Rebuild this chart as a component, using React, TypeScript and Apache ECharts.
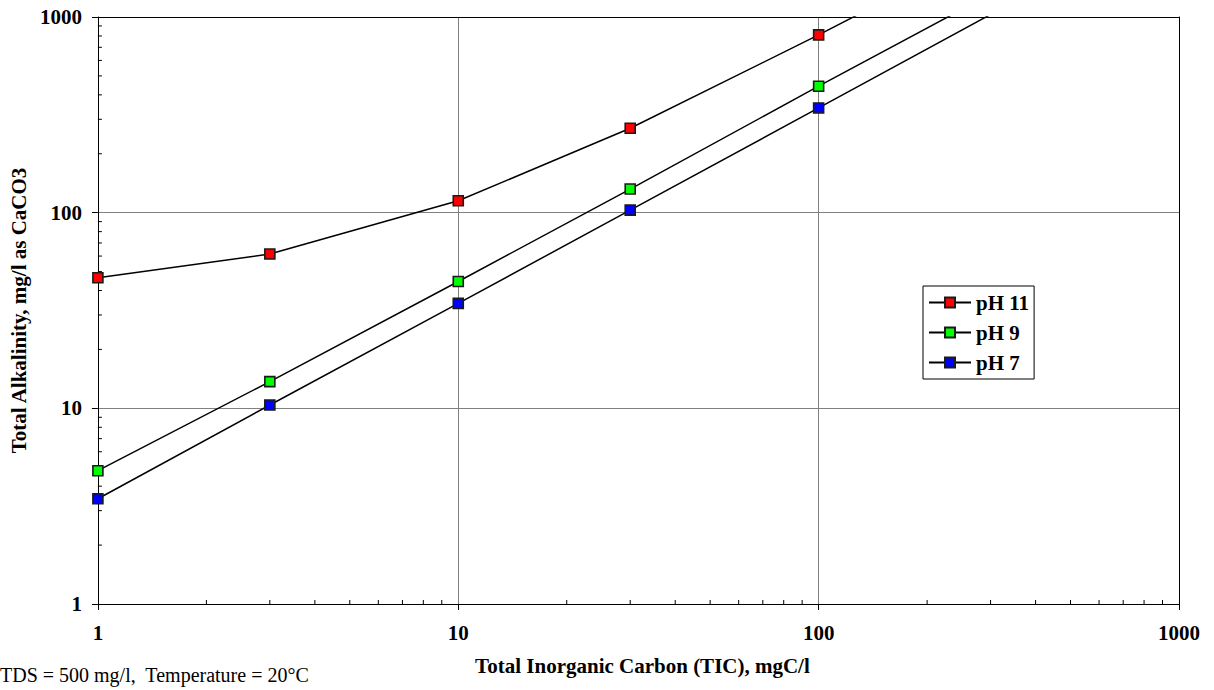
import React, { useEffect, useRef } from "react";
import * as echarts from "echarts";

const xValues = [1, 3, 10, 30, 100, 300];
const ph11 = [46.5, 61.5, 115, 270, 810, 2300];
const ph9 = [4.8, 13.7, 44.5, 132, 443, 1310];
const ph7 = [3.45, 10.4, 34.4, 103, 343, 1030];
const seriesNames = ["pH 11", "pH 9", "pH 7"];
const seriesColors = ["#ff0000", "#00ff00", "#0000ff"];
const minorTicks = [2, 3, 4, 5, 6, 7, 8, 9, 20, 30, 40, 50, 60, 70, 80, 90, 200, 300, 400, 500, 600, 700, 800, 900];

const FONT = "'Liberation Serif', 'Times New Roman', serif";
const FS = 21;

export default function App() {
  const ref = useRef<HTMLDivElement>(null);
  useEffect(() => {
    document.body.style.margin = "0";
    const chart = echarts.init(ref.current!, null, { renderer: "svg" });
    const mk = (name: string, vals: number[], color: string) => ({
      name,
      type: "line",
      data: xValues.map((x, i) => [x, vals[i]]),
      symbol: "rect",
      symbolSize: 10,
      clip: true,
      lineStyle: { color: "#000", width: 1.5 },
      itemStyle: { color, borderColor: "#1a1a1a", borderWidth: 1.6 },
      z: 5,
    });
    const axisCommon = {
      type: "log",
      logBase: 10,
      min: 1,
      max: 1000,
    };
    const fmt = (v: number) => String(Math.round(v));
    chart.setOption({
      animation: false,
      grid: { left: 96, top: 17, width: 1083, height: 587 },
      xAxis: [
        {
          ...axisCommon,
          position: "bottom",
          name: "Total Inorganic Carbon (TIC), mgC/l",
          nameLocation: "middle",
          nameGap: 51,
          nameTextStyle: { fontFamily: FONT, fontWeight: "bold", fontSize: FS, color: "#000", padding: [0, 0, 0, 8] },
          axisLine: { show: true, lineStyle: { color: "#000", width: 1 } },
          axisTick: { show: true, inside: false, length: 6, lineStyle: { color: "#000" } },
          axisLabel: { fontFamily: FONT, fontWeight: "bold", fontSize: FS, color: "#000", margin: 18, formatter: fmt },
          splitLine: { show: true, lineStyle: { color: "#808080", width: 1 } },
        },
        {
          ...axisCommon,
          position: "top",
          axisLine: { show: true, lineStyle: { color: "#000", width: 1 } },
          axisTick: { show: false },
          axisLabel: { show: false },
          splitLine: { show: false },
        },
      ],
      yAxis: [
        {
          ...axisCommon,
          position: "left",
          name: "Total Alkalinity, mg/l as CaCO3",
          nameLocation: "middle",
          nameGap: 62,
          nameTextStyle: { fontFamily: FONT, fontWeight: "bold", fontSize: FS, color: "#000" },
          axisLine: { show: true, lineStyle: { color: "#000", width: 1 } },
          axisTick: { show: true, inside: false, length: 6, lineStyle: { color: "#000" } },
          axisLabel: { fontFamily: FONT, fontWeight: "bold", fontSize: FS, color: "#000", margin: 16, formatter: fmt },
          splitLine: { show: true, lineStyle: { color: "#808080", width: 1 } },
        },
        {
          ...axisCommon,
          position: "right",
          axisLine: { show: true, lineStyle: { color: "#000", width: 1 } },
          axisTick: { show: false },
          axisLabel: { show: false },
          splitLine: { show: false },
        },
      ],
      legend: {
        data: seriesNames,
        orient: "vertical",
        left: 923,
        top: 286,
        borderColor: "#000",
        borderWidth: 1,
        backgroundColor: "#fff",
        padding: [6, 5, 6, 5],
        itemWidth: 42,
        itemHeight: 12.5,
        itemGap: 9,
        textStyle: { fontFamily: FONT, fontWeight: "bold", fontSize: FS, color: "#000" },
      },
      graphic: [
        {
          type: "text",
          left: 0,
          top: 665,
          style: {
            text: "TDS = 500 mg/l,  Temperature = 20°C",
            font: `20px ${FONT}`,
            fill: "#000",
          },
        },
      ],
      series: [
        mk(seriesNames[0], ph11, seriesColors[0]),
        mk(seriesNames[1], ph9, seriesColors[1]),
        mk(seriesNames[2], ph7, seriesColors[2]),
        {
          type: "custom",
          name: "xMinor",
          silent: true,
          clip: false,
          data: minorTicks.map((v) => [v, 1]),
          renderItem: (params: any, api: any) => {
            const p = api.coord([api.value(0), api.value(1)]);
            return {
              type: "line",
              shape: { x1: p[0], y1: p[1], x2: p[0], y2: p[1] - 4 },
              style: { stroke: "#000", lineWidth: 1 },
            };
          },
        },
        {
          type: "custom",
          name: "yMinor",
          silent: true,
          clip: false,
          data: minorTicks.map((v) => [1, v]),
          renderItem: (params: any, api: any) => {
            const p = api.coord([api.value(0), api.value(1)]);
            return {
              type: "line",
              shape: { x1: p[0], y1: p[1], x2: p[0] + 4, y2: p[1] },
              style: { stroke: "#000", lineWidth: 1 },
            };
          },
        },
      ],
    });
    return () => chart.dispose();
  }, []);
  return <div ref={ref} style={{ width: 1214, height: 690 }} />;
}
